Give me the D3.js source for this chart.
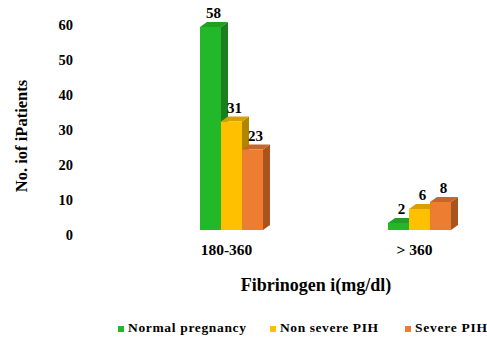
<!DOCTYPE html>
<html>
<head>
<meta charset="utf-8">
<script src="https://cdn.jsdelivr.net/npm/d3@7"></script>
<style>
  html, body { margin: 0; padding: 0; background: #fff; }
  svg { display: block; }
  text { font-family: "Liberation Serif", "Times New Roman", serif; font-weight: bold; fill: #000; }
</style>
</head>
<body>
<svg id="chart" width="487" height="338"></svg>
<script>
// Fibrinogen groups and patient counts per series
const categories = ["180-360", "> 360"];
const seriesNames = ["Normal pregnancy", "Non severe PIH", "Severe PIH"];
const normalPregnancy = [58, 2];
const nonSeverePIH = [31, 6];
const severePIH = [23, 8];
const yTicks = [0, 10, 20, 30, 40, 50, 60];

const seriesValues = [normalPregnancy, nonSeverePIH, severePIH];
// front / top / side shades for each series
const faceColors = [
  { front: "#23b829", top: "#1f9f24", side: "#1a7f1e" },
  { front: "#ffc000", top: "#d6a100", side: "#b08500" },
  { front: "#ed7d31", top: "#c8662a", side: "#a9531f" }
];

const svg = d3.select("#chart");
const depthX = 7, depthY = 5;

const x = d3.scaleBand().domain(categories).range([153, 498])
  .paddingInner(0.665).paddingOuter(0.25);
const xs = d3.scaleBand().domain(seriesNames).range([0, x.bandwidth()]);
const y = d3.scaleLinear().domain([0, 60]).range([230, 20]);

// y tick labels (no axis line, no gridlines)
const yAxis = d3.axisLeft(y).tickValues(yTicks).tickSize(0).tickPadding(0);
const gy = svg.append("g").attr("transform", "translate(73,0)").call(yAxis);
gy.select(".domain").remove();
gy.selectAll("text")
  .attr("font-family", null).attr("font-size", null)
  .style("font-size", "14.5px")
  .attr("dy", "0.72em").attr("y", -1);

// category labels
categories.forEach(c => {
  svg.append("text")
    .attr("x", x(c) + x.bandwidth() / 2 - 5)
    .attr("y", 255)
    .attr("text-anchor", "middle")
    .style("font-size", "15.5px")
    .text(c);
});

// 3D bars
const bars = svg.append("g");
categories.forEach((c, ci) => {
  seriesNames.forEach((s, si) => {
    const v = seriesValues[si][ci];
    const x0 = x(c) + xs(s), w = xs.bandwidth();
    const yt = y(v), yb = y(0);
    const col = faceColors[si];
    const g = bars.append("g");
    // side face
    g.append("path")
      .attr("d", `M${x0 + w},${yb} L${x0 + w + depthX},${yb - depthY} L${x0 + w + depthX},${yt - depthY} L${x0 + w},${yt} Z`)
      .attr("fill", col.side);
    // top face
    g.append("path")
      .attr("d", `M${x0},${yt} L${x0 + depthX},${yt - depthY} L${x0 + w + depthX},${yt - depthY} L${x0 + w},${yt} Z`)
      .attr("fill", col.top);
    // front face
    g.append("rect")
      .attr("x", x0).attr("y", yt).attr("width", w).attr("height", yb - yt)
      .attr("fill", col.front);
    // value label
    g.append("text")
      .attr("x", x0 + w / 2 + 3)
      .attr("y", yt - 9)
      .attr("text-anchor", "middle")
      .style("font-size", "15px")
      .text(v);
  });
});

// axis titles
svg.append("text")
  .attr("transform", `translate(27,${136}) rotate(-90)`)
  .attr("text-anchor", "middle")
  .style("font-size", "16.5px")
  .text("No. iof iPatients");

svg.append("text")
  .attr("x", 316).attr("y", 291)
  .attr("text-anchor", "middle")
  .style("font-size", "18px")
  .text("Fibrinogen i(mg/dl)");

// legend
const legendX = [118, 270, 405];
const legendLen = [118, 98, 72];
seriesNames.forEach((s, i) => {
  svg.append("rect")
    .attr("x", legendX[i]).attr("y", 326).attr("width", 6).attr("height", 6)
    .attr("fill", faceColors[i].front);
  svg.append("text")
    .attr("x", legendX[i] + 10).attr("y", 332)
    .attr("textLength", legendLen[i])
    .attr("lengthAdjust", "spacing")
    .style("font-size", "13.5px")
    .text(s);
});
</script>
</body>
</html>
